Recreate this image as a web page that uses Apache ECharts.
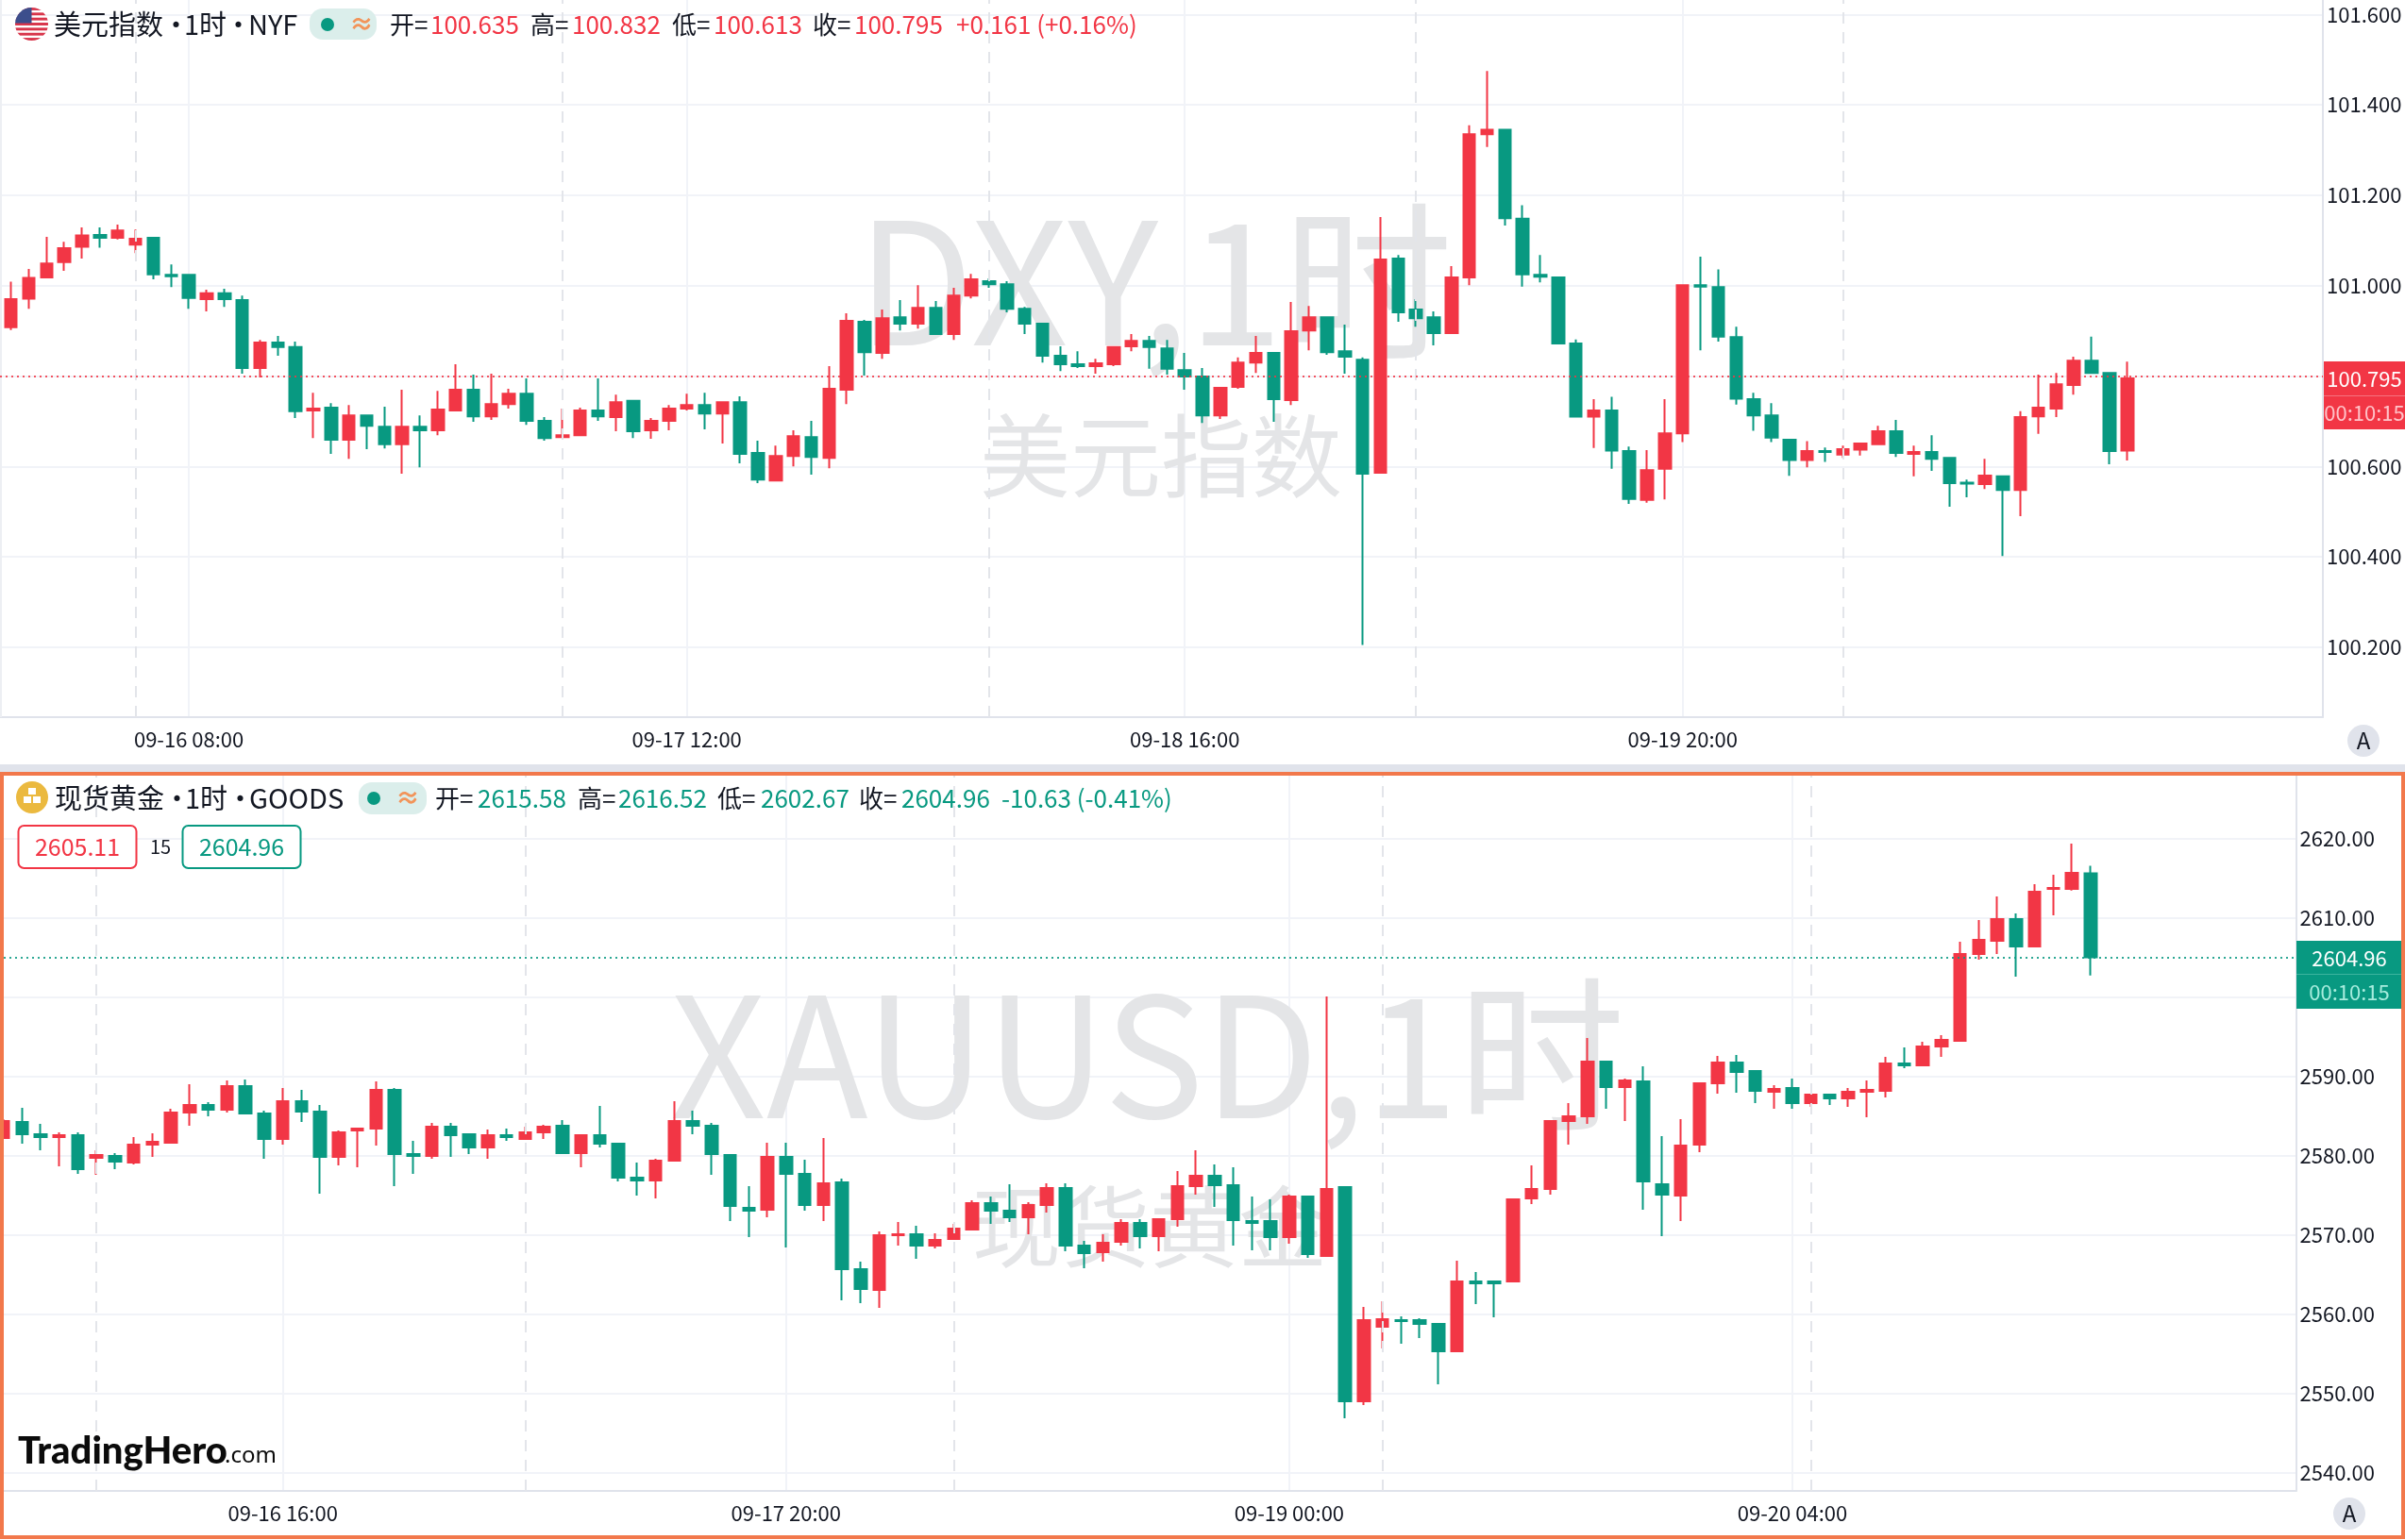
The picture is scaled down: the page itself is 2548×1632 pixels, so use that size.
<!DOCTYPE html>
<html><head><meta charset="utf-8">
<style>html,body{margin:0;padding:0;background:#fff}#c{width:2548px;height:1632px}</style>
<script src="https://cdn.jsdelivr.net/npm/echarts@6/dist/echarts.min.js"></script>
</head><body><div id="c"></div>
<script>
const dxyOpen=[100.908,100.971,101.018,101.052,101.086,101.112,101.106,101.091,101.106,101.024,101.024,100.970,100.983,100.968,100.818,100.874,100.864,100.724,100.730,100.659,100.713,100.688,100.649,100.688,100.680,100.724,100.770,100.711,100.738,100.761,100.701,100.665,100.669,100.724,100.709,100.745,100.680,100.701,100.728,100.736,100.717,100.742,100.630,100.569,100.623,100.665,100.619,100.770,100.920,100.851,100.930,100.916,100.951,100.893,100.978,101.010,101.003,100.949,100.916,100.845,100.826,100.822,100.826,100.866,100.878,100.861,100.813,100.799,100.713,100.776,100.830,100.851,100.747,100.901,100.930,100.855,100.836,100.586,101.060,100.947,100.930,100.895,101.018,101.335,101.345,101.148,101.024,101.018,100.872,100.710,100.724,100.634,100.526,100.595,100.673,101.001,100.997,100.886,100.749,100.713,100.659,100.614,100.634,100.626,100.637,100.649,100.678,100.628,100.632,100.619,100.564,100.561,100.578,100.548,100.711,100.728,100.780,100.834,100.807,100.635];
const dxyClose=[100.970,101.017,101.049,101.083,101.111,101.106,101.122,101.104,101.025,101.021,100.973,100.983,100.970,100.818,100.874,100.864,100.722,100.728,100.659,100.713,100.690,100.649,100.688,100.680,100.726,100.770,100.711,100.738,100.761,100.701,100.663,100.669,100.724,100.711,100.742,100.678,100.701,100.728,100.736,100.717,100.742,100.628,100.571,100.623,100.667,100.621,100.772,100.922,100.853,100.928,100.916,100.951,100.893,100.978,101.014,101.003,100.949,100.916,100.845,100.826,100.822,100.828,100.864,100.878,100.864,100.816,100.799,100.713,100.774,100.830,100.851,100.749,100.899,100.930,100.853,100.843,100.584,101.058,100.941,100.928,100.895,101.018,101.335,101.345,101.149,101.025,101.020,100.872,100.710,100.724,100.635,100.528,100.592,100.673,101.001,100.998,100.887,100.750,100.713,100.664,100.614,100.634,100.632,100.638,100.651,100.678,100.630,100.632,100.617,100.563,100.562,100.580,100.548,100.709,100.730,100.782,100.834,100.807,100.634,100.795];
const dxyHigh=[101.009,101.037,101.108,101.097,101.129,101.129,101.135,101.124,101.106,101.047,101.024,100.991,100.993,100.978,100.880,100.889,100.876,100.763,100.740,100.736,100.713,100.732,100.770,100.713,100.767,100.826,100.803,100.805,100.772,100.795,100.709,100.728,100.730,100.795,100.759,100.747,100.707,100.736,100.761,100.763,100.742,100.755,100.657,100.646,100.680,100.701,100.822,100.939,100.924,100.947,100.968,101.001,100.966,100.995,101.026,101.016,101.010,100.953,100.918,100.866,100.855,100.838,100.866,100.893,100.889,100.880,100.851,100.818,100.774,100.841,100.889,100.851,100.964,100.955,100.932,100.914,100.841,101.152,101.068,100.970,100.943,101.043,101.355,101.475,101.345,101.178,101.068,101.018,100.881,100.749,100.754,100.644,100.636,100.749,101.001,101.064,101.036,100.909,100.763,100.740,100.659,100.656,100.642,100.646,100.652,100.690,100.703,100.646,100.669,100.619,100.571,100.617,100.578,100.722,100.803,100.807,100.843,100.887,100.807,100.832];
const dxyLow=[100.902,100.949,101.017,101.033,101.060,101.084,101.102,101.072,101.014,100.997,100.949,100.943,100.953,100.805,100.797,100.845,100.707,100.663,100.628,100.617,100.638,100.640,100.584,100.598,100.669,100.724,100.699,100.703,100.728,100.692,100.657,100.665,100.667,100.701,100.678,100.663,100.661,100.680,100.724,100.682,100.651,100.607,100.563,100.569,100.600,100.582,100.596,100.738,100.801,100.838,100.901,100.905,100.891,100.880,100.972,100.995,100.941,100.893,100.830,100.811,100.818,100.805,100.822,100.855,100.816,100.803,100.770,100.696,100.705,100.772,100.807,100.699,100.736,100.857,100.847,100.805,100.205,100.586,100.920,100.909,100.868,100.893,101.001,101.307,101.133,100.998,101.007,100.871,100.710,100.641,100.595,100.517,100.520,100.527,100.654,100.857,100.876,100.737,100.679,100.654,100.579,100.598,100.610,100.619,100.624,100.647,100.621,100.578,100.590,100.511,100.532,100.550,100.402,100.490,100.672,100.709,100.759,100.805,100.605,100.613];

const xauOpen=[2582.18,2584.21,2582.66,2582.30,2582.54,2579.68,2579.92,2579.09,2581.35,2581.59,2585.40,2586.35,2585.75,2588.73,2585.28,2582.06,2586.82,2585.51,2579.80,2583.13,2583.37,2588.25,2580.16,2579.92,2583.61,2582.66,2580.99,2582.54,2582.06,2582.90,2583.73,2580.28,2582.54,2581.47,2577.18,2576.83,2579.32,2584.32,2583.73,2580.04,2573.37,2573.13,2579.80,2577.65,2573.73,2576.58,2565.63,2563.01,2569.92,2570.04,2568.61,2569.44,2570.63,2573.96,2573.01,2572.18,2573.73,2575.87,2568.61,2567.77,2569.08,2571.46,2569.80,2571.94,2576.11,2577.42,2576.23,2571.70,2571.70,2569.68,2574.80,2567.30,2575.99,2548.97,2558.37,2559.20,2559.20,2558.73,2555.28,2564.09,2564.09,2564.09,2574.56,2575.75,2584.32,2584.92,2591.82,2588.61,2589.32,2576.35,2574.92,2581.35,2589.08,2591.70,2590.63,2588.01,2588.49,2586.58,2587.66,2587.18,2588.01,2588.13,2591.58,2591.35,2593.73,2594.44,2605.40,2607.06,2609.80,2606.35,2613.61,2613.61,2615.58];
const xauClose=[2584.32,2582.66,2582.30,2582.54,2578.25,2580.04,2579.21,2581.35,2581.71,2585.40,2586.35,2585.75,2588.73,2585.28,2582.06,2586.82,2585.51,2579.80,2582.90,2583.37,2588.25,2580.16,2579.92,2583.61,2582.54,2580.99,2582.54,2582.30,2582.90,2583.61,2580.28,2582.54,2581.47,2577.18,2576.83,2579.32,2584.32,2583.73,2580.16,2573.61,2573.02,2579.80,2577.65,2573.73,2576.46,2565.63,2563.13,2569.92,2570.04,2568.61,2569.32,2570.75,2573.96,2573.01,2572.18,2573.73,2575.87,2568.61,2567.66,2568.96,2571.46,2569.80,2571.94,2576.11,2577.42,2576.23,2571.82,2571.46,2569.68,2574.80,2567.54,2575.75,2548.97,2559.20,2559.32,2559.09,2558.73,2555.28,2564.09,2563.85,2563.85,2574.44,2575.75,2584.32,2584.92,2591.82,2588.61,2589.44,2576.70,2575.04,2581.23,2589.08,2591.70,2590.51,2588.13,2588.37,2586.58,2587.66,2587.18,2588.01,2588.25,2591.58,2591.35,2593.73,2594.56,2605.40,2607.18,2609.80,2606.35,2613.25,2613.73,2615.63,2604.96];
const xauHigh=[2584.56,2585.99,2583.97,2582.90,2582.90,2580.63,2580.28,2582.30,2582.78,2585.87,2588.97,2586.71,2589.44,2589.56,2585.63,2588.49,2588.25,2586.35,2583.13,2583.49,2589.32,2588.49,2581.82,2584.09,2584.09,2582.78,2583.25,2583.37,2583.61,2583.85,2584.44,2582.66,2586.23,2581.47,2579.09,2579.56,2586.82,2585.63,2584.09,2580.04,2576.11,2581.58,2581.58,2579.44,2582.18,2577.06,2566.58,2570.39,2571.58,2571.11,2570.16,2571.35,2574.32,2574.80,2576.35,2574.08,2576.46,2576.46,2569.20,2570.04,2571.94,2571.94,2571.94,2578.01,2580.63,2578.84,2578.49,2574.80,2574.44,2575.04,2574.80,2600.04,2575.99,2560.87,2561.59,2559.68,2559.44,2558.73,2566.70,2565.28,2564.09,2574.44,2578.73,2584.44,2586.58,2594.80,2591.82,2589.68,2591.23,2582.42,2584.56,2589.08,2592.54,2592.65,2590.75,2588.85,2589.68,2587.77,2587.66,2588.49,2589.44,2592.42,2593.61,2594.32,2595.16,2606.94,2609.68,2612.66,2610.51,2614.20,2615.39,2619.32,2616.52];
const xauLow=[2582.10,2581.47,2580.63,2578.61,2577.66,2577.54,2578.25,2578.85,2579.80,2581.47,2583.73,2584.92,2585.40,2585.16,2579.56,2581.35,2584.21,2575.16,2578.73,2578.49,2581.23,2576.11,2577.66,2579.56,2579.80,2580.16,2579.56,2581.82,2582.06,2582.06,2580.28,2578.49,2580.99,2576.71,2574.92,2574.56,2579.32,2582.66,2577.54,2571.71,2569.68,2572.18,2568.37,2573.01,2571.70,2561.70,2561.35,2560.75,2568.61,2566.94,2568.25,2569.44,2570.63,2571.35,2571.58,2570.04,2572.77,2567.89,2565.75,2566.58,2568.61,2568.25,2567.89,2570.99,2575.04,2573.49,2568.61,2568.01,2568.01,2568.85,2567.06,2567.30,2546.82,2548.49,2555.63,2556.23,2556.94,2551.11,2555.28,2561.23,2559.56,2563.97,2573.85,2575.04,2581.35,2583.97,2585.87,2584.32,2573.13,2569.80,2571.70,2580.39,2587.77,2587.89,2586.58,2585.87,2585.87,2586.11,2586.35,2586.11,2584.80,2587.30,2590.99,2591.35,2592.42,2594.32,2604.68,2605.40,2602.54,2606.23,2610.28,2613.41,2602.67];

const dxyTicks=[100.2,100.4,100.6,101,101.2,101.4,101.6];
const xauTicks=[2540,2550,2560,2570,2580,2590,2610,2620];
const dxyGridLines=[100.8];
const xauGridLines=[2600];
const dxyTimeIdx=[10,38,66,94];
const dxyTimeLabels=['09-16 08:00','09-17 12:00','09-18 16:00','09-19 20:00'];
const xauTimeIdx=[15,42,69,96];
const xauTimeLabels=['09-16 16:00','09-17 20:00','09-19 00:00','09-20 04:00'];
const dxyDayIdx=[7,31,55,79,103];
const xauDayIdx=[5,28,51,74,97];

const UP='#F23645',DOWN='#089981',GRID='#F1F3F8',AXIS='#E0E3EB',DASH='#E3E5EA',WM='#E4E5E7',TXT='#131722';
const FONT='"Noto Sans CJK SC","Noto Sans",sans-serif';
const rows=(o,c,l,h)=>o.map((v,i)=>[i,v,c[i],l[i],h[i]]);

function axes(gridIndex,ticks,gridLines,dec,timeIdx,timeLabels,xMin,xMax,yMin,yMax,margin){
  return {
    x:{type:'value',gridIndex,min:xMin,max:xMax,
      axisLine:{show:true,onZero:false,lineStyle:{color:AXIS,width:2}},
      axisTick:{show:false,customValues:timeIdx},
      splitLine:{show:true,lineStyle:{color:GRID,width:2}},
      axisLabel:{customValues:timeIdx,margin,color:TXT,fontFamily:FONT,fontSize:22,
        hideOverlap:false,showMinLabel:true,showMaxLabel:true,
        formatter:v=>timeLabels[timeIdx.indexOf(v)]||''}},
    y:{type:'value',gridIndex,position:'right',min:yMin,max:yMax,scale:true,
      axisLine:{show:true,onZero:false,lineStyle:{color:AXIS,width:2}},
      axisTick:{show:false,customValues:ticks.concat(gridLines)},
      splitLine:{show:true,lineStyle:{color:GRID,width:2}},
      axisLabel:{customValues:ticks,margin:4,color:TXT,fontFamily:FONT,fontSize:22,padding:[2,0,0,0],
        formatter:v=>v.toFixed(dec)}}
  };
}
function series(idx,data,dayIdx,last,barWidth){
  const col=last.up?UP:DOWN;
  return {type:'candlestick',xAxisIndex:idx,yAxisIndex:idx,data,barWidth,clip:false,silent:true,
    itemStyle:{color:UP,color0:DOWN,borderColor:UP,borderColor0:DOWN,borderWidth:2},
    markLine:{silent:true,symbol:'none',animation:false,label:{show:false},
      data:[...dayIdx.map(x=>({xAxis:x,lineStyle:{color:DASH,width:2,type:[12,9]}})),
            {yAxis:last.price,lineStyle:{color:col,width:2,type:[2,4],opacity:.85}}]}};
}
const a0=axes(0,dxyTicks,dxyGridLines,3,dxyTimeIdx,dxyTimeLabels,-0.621,130.0,100.0453,101.632,13);
const a1=axes(1,xauTicks,xauGridLines,2,xauTimeIdx,xauTimeLabels,0.025,123.02,2537.65,2627.89,13);

const txt=(x,y,text,font,fill,extra)=>({type:'text',x,y,z:extra&&extra.z||20,silent:true,
  style:Object.assign({text,font,fill,textVerticalAlign:'middle',textAlign:'left'},extra&&extra.style)});
const f=(s,w)=>`${w||400} ${s}px ${FONT}`;
const rect=(x,y,w,h,fill,z,extra)=>({type:'rect',silent:true,z:z||15,shape:Object.assign({x,y,width:w,height:h},extra&&extra.shape),style:Object.assign({fill},extra&&extra.style)});
const flag='data:image/svg+xml,'+encodeURIComponent('<svg xmlns="http://www.w3.org/2000/svg" width="36" height="36"><defs><clipPath id="c"><circle cx="18" cy="18" r="18"/></clipPath></defs><g clip-path="url(#c)"><rect width="36" height="36" fill="#fff"/><g fill="#D8344A"><rect y="0" width="36" height="3"/><rect y="5.5" width="36" height="3"/><rect y="11" width="36" height="3"/><rect y="16.5" width="36" height="3"/><rect y="22" width="36" height="3"/><rect y="27.5" width="36" height="3"/><rect y="33" width="36" height="3"/></g><rect width="18" height="17" fill="#3C4E8C"/></g></svg>');

const graphic=[
  // watermarks
  txt(908,298,'DXY,1时',f(180),WM,{z:1}),
  txt(1038,483,'美元指数',f(96),WM,{z:1}),
  txt(710,1118,'XAUUSD,1时',f(177),WM,{z:1}),
  txt(1030,1300,'现货黄金',f(94),WM,{z:1}),
  // pane gap and selection border
  rect(0,810,2548,9,'#E0E3EB',12),
  rect(2,820,2544,809,'none',30,{style:{stroke:'#F2784B',lineWidth:4}}),
  rect(0,0,2,760,'#EDEFF3',4),
  // top header
  {type:'image',z:20,silent:true,style:{image:flag,x:16,y:8,width:35,height:35}},
  txt(57,26,'美元指数',f(29),TXT), txt(172,26,'·',f(29),TXT), txt(195,26,'1时',f(29),TXT), txt(238,26,'·',f(29),TXT), txt(263,26,'NYF',f(29),TXT),
  rect(328,9,71,33,'#DBEEEB',18,{shape:{r:14}}),
  {type:'circle',z:20,silent:true,shape:{cx:347,cy:26,r:7},style:{fill:DOWN}},
  txt(370,25,'≈',f(26,700),'#F2945A'),
  txt(413,26,'开=',f(26),TXT), txt(456,26,'100.635',f(26),UP),
  txt(562,26,'高=',f(26),TXT), txt(606,26,'100.832',f(26),UP),
  txt(712,26,'低=',f(26),TXT), txt(756,26,'100.613',f(26),UP),
  txt(861,26,'收=',f(26),TXT), txt(905,26,'100.795',f(26),UP),
  txt(1013,26,'+0.161 (+0.16%)',f(26),UP),
  // top last price tag
  rect(2462,383,86,72,UP,18),
  rect(2462,419,86,1,'#F6737F',19),
  txt(2505,402,'100.795',f(22),'#fff',{style:{textAlign:'center'}}),
  txt(2505,438,'00:10:15',f(22),'#FFC2C8',{style:{textAlign:'center'}}),
  {type:'circle',z:20,silent:true,shape:{cx:2504,cy:785,r:17},style:{fill:'#E0E3EB'}},
  txt(2504,785,'A',f(24),TXT,{style:{textAlign:'center'}}),
  // bottom header
  {type:'circle',z:20,silent:true,shape:{cx:34,cy:845,r:17},style:{fill:'#EBB93F'}},
  rect(30,835,8,7,'#fff',21), rect(25,844,8,7,'#fff',21), rect(35,844,8,7,'#fff',21),
  txt(58,846,'现货黄金',f(29),TXT), txt(173,846,'·',f(29),TXT), txt(196,846,'1时',f(29),TXT), txt(240,846,'·',f(29),TXT), txt(264,846,'GOODS',f(29),TXT),
  rect(380,829,72,34,'#DBEEEB',18,{shape:{r:14}}),
  {type:'circle',z:20,silent:true,shape:{cx:396,cy:846,r:7},style:{fill:DOWN}},
  txt(419,845,'≈',f(26,700),'#F2945A'),
  txt(461,846,'开=',f(26),TXT), txt(506,846,'2615.58',f(26),DOWN),
  txt(612,846,'高=',f(26),TXT), txt(655,846,'2616.52',f(26),DOWN),
  txt(760,846,'低=',f(26),TXT), txt(806,846,'2602.67',f(26),DOWN),
  txt(910,846,'收=',f(26),TXT), txt(955,846,'2604.96',f(26),DOWN),
  txt(1061,846,'-10.63 (-0.41%)',f(26),DOWN),
  rect(19.5,875,125,45,'#fff',18,{shape:{r:6},style:{stroke:UP,lineWidth:2}}),
  txt(82,897,'2605.11',f(25),UP,{style:{textAlign:'center'}}),
  txt(170,897,'15',f(20),TXT,{style:{textAlign:'center'}}),
  rect(193.5,875,125,45,'#fff',18,{shape:{r:6},style:{stroke:DOWN,lineWidth:2}}),
  txt(256,897,'2604.96',f(25),DOWN,{style:{textAlign:'center'}}),
  // bottom last price tag
  rect(2433,997,111,72,DOWN,18),
  rect(2433,1032,111,1,'#3DB39E',19),
  txt(2489,1016,'2604.96',f(22),'#fff',{style:{textAlign:'center'}}),
  txt(2489,1052,'00:10:15',f(22),'#A6ECDD',{style:{textAlign:'center'}}),
  {type:'circle',z:20,silent:true,shape:{cx:2489,cy:1604,r:17},style:{fill:'#E0E3EB'}},
  txt(2489,1604,'A',f(24),TXT,{style:{textAlign:'center'}}),
  // logo
  txt(19,1538,'TradingHero',`900 40px Lato,"Noto Sans",sans-serif`,'#0B0B0B'),
  txt(238,1543,'.com',`400 24px "Noto Sans",sans-serif`,'#0B0B0B')
];

const chart=echarts.init(document.getElementById('c'),null,{renderer:'canvas',width:2548,height:1632});
chart.setOption({
  animation:false,backgroundColor:'#fff',
  grid:[{left:0,top:0,width:2461,height:760,containLabel:false},{left:4,top:822,width:2428.5,height:758,containLabel:false}],
  xAxis:[a0.x,a1.x],yAxis:[a0.y,a1.y],
  series:[
    series(0,rows(dxyOpen,dxyClose,dxyLow,dxyHigh),dxyDayIdx,{price:dxyClose[dxyClose.length-1],up:true},13),
    series(1,rows(xauOpen,xauClose,xauLow,xauHigh),xauDayIdx,{price:xauClose[xauClose.length-1],up:false},13)
  ],
  graphic
});
</script></body></html>
